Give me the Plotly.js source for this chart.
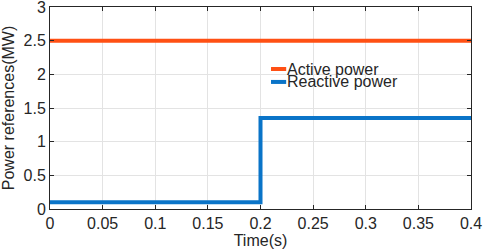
<!DOCTYPE html>
<html><head><meta charset="utf-8">
<script src="https://cdn.plot.ly/plotly-3.0.1.min.js"></script>
<style>html,body{margin:0;padding:0;background:#fff}#c{width:484px;height:251px}</style>
</head><body><div id="c"></div>
<script>
const timeActive = [0, 0.4];
const activePower = [2.5, 2.5];
const timeReactive = [0, 0.2, 0.2, 0.4];
const reactivePower = [0.1, 0.1, 1.35, 1.35];
const xTicks = [0, 0.05, 0.1, 0.15, 0.2, 0.25, 0.3, 0.35, 0.4];
const xTickLabels = ['0', '0.05', '0.1', '0.15', '0.2', '0.25', '0.3', '0.35', '0.4'];
const yTicks = [0, 0.5, 1, 1.5, 2, 2.5, 3];
const yTickLabels = ['0', '0.5', '1', '1.5', '2', '2.5', '3'];
const seriesNames = ['Active power', 'Reactive power'];
const seriesColors = ['#ff5014', '#0a74c8'];

const font = {family: 'Liberation Sans, Arial, sans-serif', size: 16, color: '#262626'};
const traces = [
  {x: timeActive, y: activePower, mode: 'lines', name: seriesNames[0],
   line: {color: seriesColors[0], width: 4}},
  {x: timeReactive, y: reactivePower, mode: 'lines', name: seriesNames[1],
   line: {color: seriesColors[1], width: 4}}
];
const axisCommon = {
  showline: true, mirror: 'ticks', linecolor: '#262626', linewidth: 1,
  ticks: 'inside', ticklen: 4, tickcolor: '#262626',
  showgrid: true, gridcolor: '#e3e3e3', gridwidth: 1, zeroline: false,
  tickfont: font, ticklabeloverflow: 'allow'
};
// manual legend (MATLAB-style short swatches)
const legendY = [0.693, 0.629];
const shapes = [], annotations = [];
seriesNames.forEach((n, i) => {
  shapes.push({type: 'line', xref: 'paper', yref: 'paper', x0: 0.525, x1: 0.561,
    y0: legendY[i], y1: legendY[i], line: {color: seriesColors[i], width: 4}});
  annotations.push({xref: 'paper', yref: 'paper', x: 0.561, y: legendY[i], text: n,
    showarrow: false, xanchor: 'left', yanchor: 'middle', font: font, xshift: -1});
});
const layout = {
  width: 484, height: 251,
  margin: {l: 50, r: 13, t: 7, b: 42},
  paper_bgcolor: '#fff', plot_bgcolor: '#fff',
  font: font,
  xaxis: Object.assign({}, axisCommon, {range: [0, 0.4], tickvals: xTicks, ticktext: xTickLabels,
    title: {text: 'Time(s)', font: font, standoff: 2}}),
  yaxis: Object.assign({}, axisCommon, {range: [0, 3], tickvals: yTicks, ticktext: yTickLabels,
    title: {text: 'Power references(MW)', font: font, standoff: 6}}),
  shapes: shapes, annotations: annotations,
  showlegend: false
};
Plotly.newPlot('c', traces, layout, {displayModeBar: false, staticPlot: true});
</script></body></html>
